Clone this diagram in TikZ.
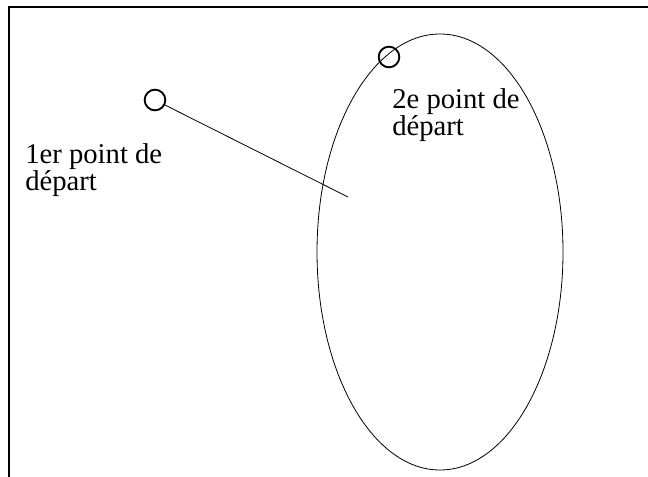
\documentclass[tikz,border=0pt]{standalone}
\usepackage{fontspec}
\setmainfont{Liberation Serif}

\begin{document}
\begin{tikzpicture}[x=0.75pt,y=-0.75pt,
        point/.style={draw,circle,line width=1.4pt,inner sep=0pt,minimum size=15.5pt},
        label/.style={inner sep=0pt,anchor=north west,align=left,font=\fontsize{21.5}{20.5}\selectfont}]
        \useasboundingbox (0,0) rectangle (648,477);
        \draw[line width=1.1pt] (648,7) -- (9,7) -- (9,477);

        \draw[line width=0.6pt] (440,252) ellipse [x radius=123,y radius=218];

        \node[point] (depart1) at (155,100) {};
        \node[point] (depart2) at (389,57) {};
        \coordinate (fin) at (348,197);

        \node[label] (lab1) at (25,143) {1er point de\\départ};
        \node[label] (lab2) at (392,88) {2e point de\\départ};

        \draw[line width=0.6pt] (depart1) -- (fin);
    \end{tikzpicture}
\end{document}
